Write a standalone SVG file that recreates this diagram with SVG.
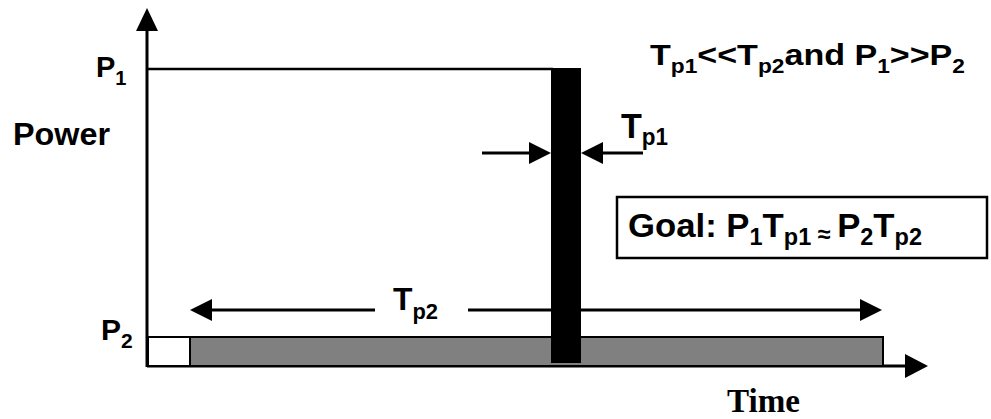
<svg xmlns="http://www.w3.org/2000/svg" width="991" height="419" viewBox="0 0 991 419">
  <style>
    .lbl { font-family: "Liberation Sans", Arial, sans-serif; font-weight: bold; fill: #000; }
    .time { font-family: "Liberation Serif", "Times New Roman", serif; font-weight: bold; fill: #000; }
    .ln { stroke: #000; fill: none; }
    .head { fill: #000; stroke: none; }
  </style>
  <rect width="991" height="419" fill="#fff"/>

  <!-- axes -->
  <g id="axes">
    <line class="ln" x1="147" y1="26" x2="147" y2="367" stroke-width="3"/>
    <polygon class="head" points="147,8 136,31 158,31"/>
    <line class="ln" x1="147" y1="366" x2="908" y2="366" stroke-width="3"/>
    <polygon class="head" points="928,366 905,354 905,378"/>
    <text class="lbl" x="13" y="145" font-size="31" textLength="97" lengthAdjust="spacingAndGlyphs">Power</text>
    <text class="time" x="727" y="412" font-size="33" textLength="73" lengthAdjust="spacingAndGlyphs">Time</text>
    <text class="lbl" x="96" y="77" font-size="29">P<tspan font-size="20" dy="8">1</tspan></text>
    <text class="lbl" x="101" y="340" font-size="30">P<tspan font-size="21" dy="8">2</tspan></text>
  </g>

  <!-- low-power long pulse -->
  <g id="pulse-long">
    <rect x="148" y="337" width="42" height="29" fill="#fff" stroke="#000" stroke-width="2"/>
    <rect x="190" y="337" width="693" height="29" fill="#808080" stroke="#000" stroke-width="2"/>
  </g>

  <!-- Tp2 span and Tp1 width connectors -->
  <g id="connectors">
    <line class="ln" x1="210" y1="310" x2="375" y2="310" stroke-width="3"/>
    <polygon class="head" points="190,310 212,299 212,321"/>
    <line class="ln" x1="468" y1="310" x2="862" y2="310" stroke-width="3"/>
    <polygon class="head" points="882,310 860,299 860,321"/>
    <line class="ln" x1="482" y1="153" x2="532" y2="153" stroke-width="3"/>
    <polygon class="head" points="551,153 529,142 529,164"/>
    <line class="ln" x1="599" y1="153" x2="643" y2="153" stroke-width="3"/>
    <polygon class="head" points="581,153 603,142 603,164"/>
    <!-- P1 level -->
    <line class="ln" x1="147" y1="69" x2="553" y2="69" stroke-width="2.5"/>
  </g>

  <!-- high-power short pulse -->
  <g id="pulse-short">
    <rect x="551" y="68" width="30" height="295" fill="#000"/>
  </g>

  <g id="label-tp2">
    <text class="lbl" x="393" y="310" font-size="32" textLength="45" lengthAdjust="spacingAndGlyphs">T<tspan font-size="22" dy="9">p2</tspan></text>
  </g>
  <g id="label-tp1">
    <text class="lbl" x="621" y="138" font-size="35" textLength="47" lengthAdjust="spacingAndGlyphs">T<tspan font-size="23" dy="7">p1</tspan></text>
  </g>

  <g id="condition">
    <text class="lbl" x="650" y="65" font-size="30" textLength="315" lengthAdjust="spacingAndGlyphs">T<tspan font-size="20" dy="8">p1</tspan><tspan dy="-8">&lt;&lt;T</tspan><tspan font-size="20" dy="8">p2</tspan><tspan dy="-8">and P</tspan><tspan font-size="20" dy="8">1</tspan><tspan dy="-8">&gt;&gt;P</tspan><tspan font-size="20" dy="8">2</tspan></text>
  </g>

  <g id="goal">
    <rect x="617" y="197" width="370" height="61" fill="#fff" stroke="#000" stroke-width="2.5"/>
    <text class="lbl" x="628" y="237" font-size="34" textLength="294" lengthAdjust="spacingAndGlyphs">Goal: P<tspan font-size="23" dy="8">1</tspan><tspan dy="-8">T</tspan><tspan font-size="23" dy="8">p1</tspan><tspan font-size="23" dy="-3"> ≈ </tspan><tspan dy="-5">P</tspan><tspan font-size="23" dy="8">2</tspan><tspan dy="-8">T</tspan><tspan font-size="23" dy="8">p2</tspan></text>
  </g>
</svg>
